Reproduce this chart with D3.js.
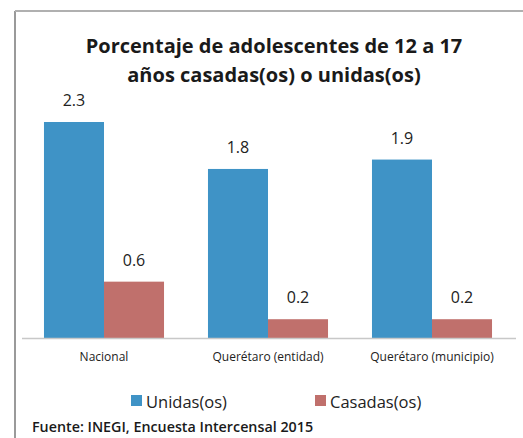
<!DOCTYPE html>
<html>
<head>
  <script src="https://d3js.org/d3.v7.min.js"></script>
  <style>
  html, body { margin: 0; padding: 0; background: #fff; }
  svg { display: block; }
  </style>
</head>
<body>
  <svg id="chart" width="523" height="438"></svg>
  <script>
  // data
  var categories = ["Nacional", "Querétaro (entidad)", "Querétaro (municipio)"];
  var seriesNames = ["Unidas(os)", "Casadas(os)"];
  var unidas = [2.3, 1.8, 1.9];
  var casadas = [0.6, 0.2, 0.2];
  var colors = ["#3f93c6", "#c0706c"];

  var rows = categories.map(function(c, i) {
    return { cat: c, vals: [unidas[i], casadas[i]] };
  });

  var svg = d3.select("#chart");
  var font = "'Open Sans', sans-serif";

  // frame
  svg.append("line").attr("x1", 15).attr("x2", 15).attr("y1", 11).attr("y2", 438)
    .attr("stroke", "#9a9a9a").attr("stroke-width", 2);
  svg.append("line").attr("x1", 15).attr("x2", 523).attr("y1", 11).attr("y2", 11)
    .attr("stroke", "#b0b0b0").attr("stroke-width", 2);

  // title
  var title = svg.append("text").attr("text-anchor", "middle")
    .style("font-family", font).style("font-weight", "bold").style("font-size", "20px")
    .attr("fill", "#1a1a1a");
  title.append("tspan").attr("x", 274).attr("y", 53).text("Porcentaje de adolescentes de 12 a 17");
  title.append("tspan").attr("x", 274).attr("y", 82).text("años casadas(os) o unidas(os)");

  var baseY = 338;
  var x = d3.scaleBand().domain(categories).range([22, 514])
    .paddingInner(0.268).paddingOuter(0.134);
  var xs = d3.scaleBand().domain(d3.range(seriesNames.length)).range([0, x.bandwidth()]);
  var y = d3.scaleLinear().domain([0, 2.3]).range([baseY, 122]);

  var g = svg.selectAll(".grp").data(rows).enter().append("g")
    .attr("transform", function(d) { return "translate(" + x(d.cat) + ",0)"; });

  g.selectAll("rect").data(function(d) { return d.vals; }).enter().append("rect")
    .attr("x", function(d, i) { return xs(i); })
    .attr("y", function(d) { return y(d); })
    .attr("width", xs.bandwidth())
    .attr("height", function(d) { return baseY - y(d); })
    .attr("fill", function(d, i) { return colors[i]; });

  g.selectAll(".lbl").data(function(d) { return d.vals; }).enter().append("text")
    .attr("class", "lbl")
    .attr("x", function(d, i) { return xs(i) + xs.bandwidth() / 2; })
    .attr("y", function(d) { return y(d) - 16; })
    .attr("text-anchor", "middle")
    .style("font-family", font).style("font-size", "16px").attr("fill", "#222")
    .text(function(d) { return d3.format(".1f")(d); });

  // baseline
  svg.append("line").attr("x1", 22).attr("x2", 516).attr("y1", baseY + 0.5).attr("y2", baseY + 0.5)
    .attr("stroke", "#c8c8c8").attr("stroke-width", 1.5);

  // category labels
  svg.selectAll(".cat").data(categories).enter().append("text")
    .attr("x", function(d) { return x(d) + x.bandwidth() / 2; })
    .attr("y", 361)
    .attr("text-anchor", "middle")
    .style("font-family", font).style("font-size", "12px").attr("fill", "#222")
    .text(function(d) { return d; });

  // legend
  var legendX = [131, 315];
  var lg = svg.selectAll(".leg").data(seriesNames).enter().append("g")
    .attr("transform", function(d, i) { return "translate(" + legendX[i] + ",395)"; });
  lg.append("rect").attr("width", 11).attr("height", 11)
    .attr("fill", function(d, i) { return colors[i]; });
  lg.append("text").attr("x", 15).attr("y", 13)
    .style("font-family", font).style("font-size", "16.5px").attr("fill", "#222")
    .text(function(d) { return d; });

  // source
  svg.append("text").attr("x", 32).attr("y", 432)
    .style("font-family", font).style("font-size", "14.3px").style("font-weight", "600")
    .attr("fill", "#1a1a1a")
    .text("Fuente: INEGI, Encuesta Intercensal 2015");
  </script>
</body>
</html>
